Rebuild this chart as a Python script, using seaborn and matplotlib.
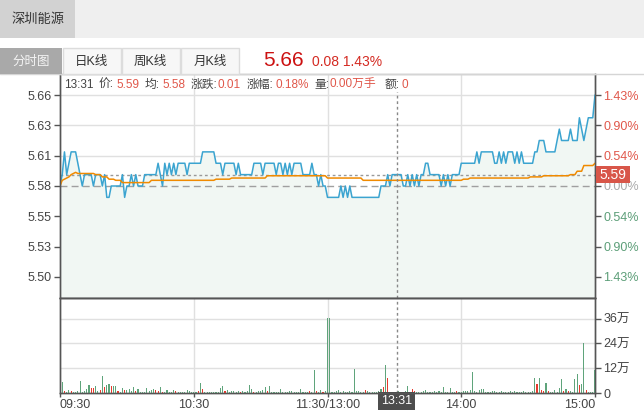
import numpy as np
import pandas as pd
import matplotlib
matplotlib.use("Agg")
import matplotlib.pyplot as plt
import matplotlib.transforms as mtransforms
from matplotlib.patches import Rectangle
from matplotlib.lines import Line2D
import seaborn as sns

sns.set_style("white")
plt.rcParams["font.family"] = ["Liberation Sans", "Noto Sans CJK SC"]

# ---------------- data ----------------
stock_name = "深圳能源"
tabs = ["分时图", "日K线", "周K线", "月K线"]
last_price = "5.66"
change_text = "0.08 1.43%"
pre_close = 5.58
max_change = 0.08

left_tick_labels = ["5.66", "5.63", "5.61", "5.58", "5.55", "5.53", "5.50"]
right_tick_labels = ["1.43%", "0.90%", "0.54%", "0.00%", "0.54%", "0.90%", "1.43%"]
time_labels = ["09:30", "10:30", "11:30/13:00", "14:00", "15:00"]
time_label_minutes = [0, 60, 120, 180, 240]
vol_tick_values = [0, 12, 24, 36]
vol_tick_labels = ["0", "12万", "24万", "36万"]

cursor_minute = 151
cursor_time = "13:31"
cursor_price = 5.59
info_pieces = [("13:31", "l"), ("价:", "l"), ("5.59", "v"), ("均:", "l"), ("5.58", "v"),
               ("涨跌:", "l"), ("0.01", "v"), ("涨幅:", "l"), ("0.18%", "v"),
               ("量:", "l"), ("0.00万手", "v"), ("额:", "l"), ("0", "v")]

price = [
    5.58, 5.59, 5.61, 5.59, 5.60, 5.61, 5.61, 5.61, 5.60, 5.59,
    5.58, 5.59, 5.59, 5.59, 5.59, 5.58, 5.59, 5.59, 5.59, 5.58,
    5.59, 5.57, 5.57, 5.58, 5.58, 5.58, 5.58, 5.58, 5.59, 5.57,
    5.58, 5.58, 5.59, 5.58, 5.59, 5.58, 5.58, 5.58, 5.59, 5.59,
    5.59, 5.59, 5.59, 5.59, 5.60, 5.59, 5.58, 5.60, 5.59, 5.60,
    5.59, 5.60, 5.59, 5.60, 5.60, 5.60, 5.60, 5.59, 5.60, 5.60,
    5.60, 5.60, 5.60, 5.60, 5.61, 5.61, 5.61, 5.61, 5.61, 5.61,
    5.60, 5.60, 5.60, 5.59, 5.60, 5.60, 5.60, 5.60, 5.60, 5.59,
    5.60, 5.59, 5.59, 5.59, 5.59, 5.59, 5.59, 5.60, 5.60, 5.60,
    5.60, 5.59, 5.60, 5.60, 5.60, 5.60, 5.60, 5.59, 5.60, 5.60,
    5.59, 5.60, 5.59, 5.60, 5.59, 5.60, 5.60, 5.60, 5.60, 5.59,
    5.59, 5.59, 5.59, 5.60, 5.59, 5.59, 5.58, 5.59, 5.58, 5.58,
    5.57, 5.57, 5.57, 5.57, 5.57, 5.57, 5.58, 5.57, 5.58, 5.57,
    5.58, 5.57, 5.57, 5.57, 5.57, 5.57, 5.57, 5.57, 5.57, 5.57,
    5.57, 5.57, 5.57, 5.57, 5.58, 5.58, 5.58, 5.59, 5.58, 5.59,
    5.59, 5.59, 5.59, 5.59, 5.58, 5.58, 5.59, 5.58, 5.59, 5.58,
    5.59, 5.58, 5.59, 5.59, 5.60, 5.60, 5.59, 5.59, 5.59, 5.59,
    5.59, 5.58, 5.59, 5.58, 5.59, 5.58, 5.59, 5.59, 5.59, 5.59,
    5.60, 5.60, 5.60, 5.60, 5.60, 5.60, 5.60, 5.61, 5.60, 5.61,
    5.61, 5.61, 5.61, 5.61, 5.61, 5.60, 5.60, 5.61, 5.60, 5.61,
    5.60, 5.61, 5.61, 5.61, 5.60, 5.61, 5.60, 5.61, 5.60, 5.60,
    5.60, 5.60, 5.60, 5.61, 5.61, 5.62, 5.62, 5.62, 5.61, 5.61,
    5.61, 5.61, 5.61, 5.62, 5.63, 5.62, 5.62, 5.62, 5.62, 5.63,
    5.62, 5.62, 5.62, 5.64, 5.63, 5.62, 5.63, 5.64, 5.64, 5.64,
    5.66,
]

avg_price = ([5.580, 5.585, 5.586, 5.587, 5.588, 5.590, 5.591, 5.592]
             + [5.591] * 8 + [5.590] * 3 + [5.588] * 3 + [5.586] * 3
             + [5.585] * 3 + [5.583] * 13 + [5.585] * 29 + [5.586] * 7
             + [5.587] * 16 + [5.589] * 27 + [5.587] * 16 + [5.585] * 45
             + [5.586] * 3 + [5.587] * 27 + [5.588] * 6 + [5.589] * 12
             + [5.590] * 3 + [5.593] * 3 + [5.598] * 5 + [5.600])

volume_wan = [
    0.8, 5.2, 0.8, 0.5, 1.5, 1.0, 0.6, 0.5, 1.0, 5.8,
    0.6, 1.0, 1.8, 3.9, 2.6, 2.3, 3.2, 0.8, 1.5, 8.3,
    2.8, 3.8, 4.6, 3.2, 3.2, 3.2, 1.0, 0.5, 2.3, 1.3,
    1.3, 2.0, 1.0, 2.8, 1.2, 2.0, 0.5, 0.6, 0.5, 2.3,
    1.0, 1.5, 2.0, 1.5, 1.2, 2.8, 0.5, 0.5, 1.3, 0.5,
    0.5, 1.3, 1.0, 0.5, 0.5, 0.6, 0.5, 1.5, 1.0, 0.5,
    0.4, 0.5, 0.8, 4.9, 2.0, 0.5, 0.5, 0.6, 0.5, 0.5,
    0.5, 0.6, 2.5, 3.5, 1.2, 1.5, 0.5, 0.8, 1.0, 0.5,
    1.0, 0.6, 1.2, 0.5, 0.8, 4.0, 2.0, 0.3, 0.5, 0.8,
    1.0, 1.5, 2.8, 1.0, 3.2, 0.5, 0.5, 0.6, 0.5, 2.0,
    0.5, 0.6, 0.5, 0.8, 1.2, 0.5, 0.5, 0.6, 2.0, 0.5,
    0.5, 0.6, 0.8, 0.5, 11.2, 1.0, 0.5, 1.3, 0.5, 0.8,
    36.5, 36.5, 0.5, 0.6, 0.8, 1.5, 0.5, 1.0, 0.6, 0.5,
    0.8, 0.5, 11.7, 1.2, 1.0, 0.5, 0.6, 1.5, 1.0, 0.5,
    0.5, 0.6, 0.5, 0.8, 2.0, 3.0, 13.6, 7.5, 0.6, 0.5,
    0.5, 0.6, 0.8, 0.5, 0.6, 1.0, 3.6, 0.5, 1.8, 1.0,
    0.5, 0.6, 0.5, 0.8, 1.5, 0.5, 0.6, 0.5, 0.8, 0.5,
    1.2, 0.5, 3.0, 0.6, 0.5, 2.5, 0.6, 0.5, 1.0, 0.5,
    0.6, 0.8, 1.0, 1.2, 1.5, 10.0, 1.0, 0.6, 1.5, 1.8,
    1.8, 0.5, 0.6, 0.5, 0.8, 1.0, 0.5, 0.6, 0.8, 0.5,
    0.6, 0.5, 0.8, 0.5, 1.0, 0.5, 0.6, 0.5, 0.8, 0.5,
    0.6, 0.5, 1.0, 7.5, 4.5, 7.5, 1.5, 1.0, 5.0, 1.0,
    0.5, 0.6, 1.5, 0.5, 2.5, 6.8, 0.8, 2.0, 0.8, 1.0,
    0.6, 6.8, 9.3, 4.0, 4.5, 24.0, 1.5, 0.5, 0.5, 0.5,
    11.0,
]

red_bar_minutes = [2, 5, 14, 15, 18, 20, 23, 26, 29, 34, 43, 44, 46, 52, 62, 64, 74,
                   81, 87, 93, 112, 115, 118, 137, 145, 147, 158, 159, 178, 214, 216,
                   217, 219, 226, 228, 233, 236]

# ---------------- colours ----------------
C_PRICE = "#3ba4d0"
C_AVG = "#f08a00"
C_FILL = "#f1f7f3"
C_UP = "#e53b2e"
C_DOWN = "#5fa47b"
C_RED_TXT = "#e0574a"
C_GREEN_TXT = "#5c9e78"
C_AXIS = "#555555"
C_GRID = "#e0e0e0"
C_LABEL = "#444444"

# ---------------- figure ----------------
W, H = 644, 417
fig = plt.figure(figsize=(W / 100, H / 100), dpi=100)
fig.patch.set_facecolor("white")


def rect(x0, y0, x1, y1, **kw):
    r = Rectangle((x0 / W, 1 - y1 / H), (x1 - x0) / W, (y1 - y0) / H,
                  transform=fig.transFigure, **kw)
    fig.add_artist(r)
    return r


def ftext(x, y, s, **kw):
    return fig.text(x / W, 1 - y / H, s, **kw)


L, R, T, M, B = 60, 595, 74, 298, 393
axp = fig.add_axes([L / W, 1 - M / H, (R - L) / W, (M - T) / H])
axv = fig.add_axes([L / W, 1 - B / H, (R - L) / W, (B - M) / H])

n = len(price)
idx = np.arange(n)
pad = max_change * 1.231
ylo, yhi = pre_close - pad, pre_close + pad
price_ticks = [pre_close + max_change * k / 3 for k in (3, 2, 1, 0, -1, -2, -3)]

# ---- price panel ----
axp.fill_between(idx, price, ylo, color=C_FILL, lw=0, zorder=1)
for yt in price_ticks:
    if abs(yt - pre_close) > 1e-9:
        axp.axhline(yt, color=C_GRID, lw=1, zorder=0.5)
for xm in time_label_minutes[1:-1]:
    axp.axvline(xm, color=C_GRID, lw=1, zorder=0.5)
    axv.axvline(xm, color=C_GRID, lw=1, zorder=0.5)

sns.lineplot(x=idx, y=price, ax=axp, color=C_PRICE, linewidth=1.1, errorbar=None, zorder=3)
sns.lineplot(x=idx, y=avg_price, ax=axp, color=C_AVG, linewidth=1.1, errorbar=None, zorder=4)

axp.axhline(pre_close, color="#a0a0a0", lw=1, ls=(0, (5, 3)), zorder=2)
axp.axhline(cursor_price, color="#999999", lw=1, ls=(0, (2, 2)), zorder=2)
axp.axvline(cursor_minute, ymax=0.92, color="#888888", lw=1, ls=(0, (2, 2)), zorder=5)

axp.set_xlim(0, n - 1)
axp.set_ylim(ylo, yhi)
axp.set_xticks([])
axp.set_xlabel("")
axp.set_ylabel("")
axp.set_yticks(price_ticks)
axp.set_yticklabels(left_tick_labels)
axp.tick_params(axis="y", which="both", left=True, direction="out", length=4,
                width=1, color=C_AXIS, pad=2, labelsize=9, labelcolor=C_LABEL)

axr = axp.twinx()
axr.set_ylim(ylo, yhi)
axr.set_yticks(price_ticks)
axr.set_yticklabels(right_tick_labels)
axr.tick_params(axis="y", right=True, direction="out", length=4, width=1,
                color=C_AXIS, pad=2, labelsize=9)
for k, lab in enumerate(axr.get_yticklabels()):
    lab.set_color(C_RED_TXT if k < 3 else ("#aaaaaa" if k == 3 else C_GREEN_TXT))

for a in (axp, axr):
    for side in ("left", "right", "bottom"):
        a.spines[side].set_color(C_AXIS)
        a.spines[side].set_linewidth(1)
    a.spines["top"].set_color("#d5d5d5")
    a.spines["top"].set_linewidth(1)

# ---- volume panel ----
dfv = pd.DataFrame({
    "minute": idx,
    "vol": volume_wan,
    "dir": ["up" if i in red_bar_minutes else "down" for i in idx],
})
for yv in vol_tick_values[1:]:
    axv.axhline(yv, color=C_GRID, lw=1, zorder=0.5)
sns.barplot(data=dfv, x="minute", y="vol", hue="dir",
            palette={"up": C_UP, "down": C_DOWN}, native_scale=True,
            width=0.5, dodge=False, errorbar=None, legend=False,
            saturation=1, linewidth=0, ax=axv, zorder=3)
for p in axv.patches:
    p.set_antialiased(False)
axv.axvline(cursor_minute, color="#888888", lw=1, ls=(0, (2, 2)), zorder=5)
axv.set_xlim(0, n - 1)
axv.set_ylim(0, 46)
axv.set_xlabel("")
axv.set_ylabel("")
axv.set_yticks([])
axv.set_xticks(time_label_minutes)
axv.set_xticklabels(time_labels)
axv.tick_params(axis="x", bottom=True, direction="out", length=3, width=1,
                color=C_AXIS, pad=1, labelsize=9, labelcolor=C_LABEL)
xt = axv.get_xticklabels()
xt[0].set_ha("left")
xt[-1].set_ha("right")

axvr = axv.twinx()
axvr.set_ylim(0, 46)
axvr.set_yticks(vol_tick_values)
axvr.set_yticklabels(vol_tick_labels)
axvr.tick_params(axis="y", right=True, direction="out", length=4, width=1,
                 color=C_AXIS, pad=2, labelsize=9, labelcolor=C_LABEL)
for a in (axv, axvr):
    for side in ("left", "right", "bottom", "top"):
        a.spines[side].set_color(C_AXIS)
        a.spines[side].set_linewidth(1)

trans = mtransforms.blended_transform_factory(axv.transData, axv.transAxes)
axv.text(cursor_minute, -0.085, cursor_time, transform=trans, ha="center", va="center",
         color="white", fontsize=9, zorder=10, clip_on=False,
         bbox=dict(boxstyle="square,pad=0.25", fc="#4d4d4d", ec="none"))

# ---- cursor price box on the right ----
rect(596, 166, 630, 183.5, fc="#d85649", ec="none", zorder=20)
ftext(613, 175, "5.59", ha="center", va="center", color="white", fontsize=10, zorder=21)

# ---- info line ----
info_x = [64, 99, 116, 145, 162, 191, 218, 247, 275, 314, 329, 385, 402]
for (s, kind), x in zip(info_pieces, info_x):
    ftext(x, 85, s, ha="left", va="center", fontsize=8.5,
          color=(C_LABEL if kind == "l" else C_RED_TXT), zorder=20)

# ---- header / tabs ----
rect(0, 0, W, 38, fc="#efefef", ec="none", zorder=1)
rect(0, 0, 75, 38, fc="#d2d2d2", ec="none", zorder=2)
ftext(37.5, 19.5, stock_name, ha="center", va="center", fontsize=9.5, color="#333333", zorder=3)

tab_x = [(0, 62), (62.5, 121), (121.5, 180), (180.5, 239)]
for k, (name, (x0, x1)) in enumerate(zip(tabs, tab_x)):
    if k == 0:
        rect(x0, 48, x1, 73.5, fc="#a9a9a9", ec="none", zorder=2)
        col = "#f4f4f4"
    else:
        rect(x0, 48, x1, 73.5, fc="#f7f7f7", ec="#dcdcdc", lw=1, zorder=2)
        col = "#333333"
    ftext((x0 + x1) / 2, 61.5, name, ha="center", va="center", fontsize=9, color=col, zorder=3)

fig.add_artist(Line2D([0, 1], [1 - 74 / H, 1 - 74 / H], transform=fig.transFigure,
                      color="#d5d5d5", lw=1, zorder=1))
ftext(263, 60.5, last_price, ha="left", va="center", fontsize=15, color="#cc1111", zorder=3)
ftext(312, 61.5, change_text, ha="left", va="center", fontsize=10, color="#d42a22", zorder=3)

fig.savefig("out.png", dpi=100, facecolor="white")
